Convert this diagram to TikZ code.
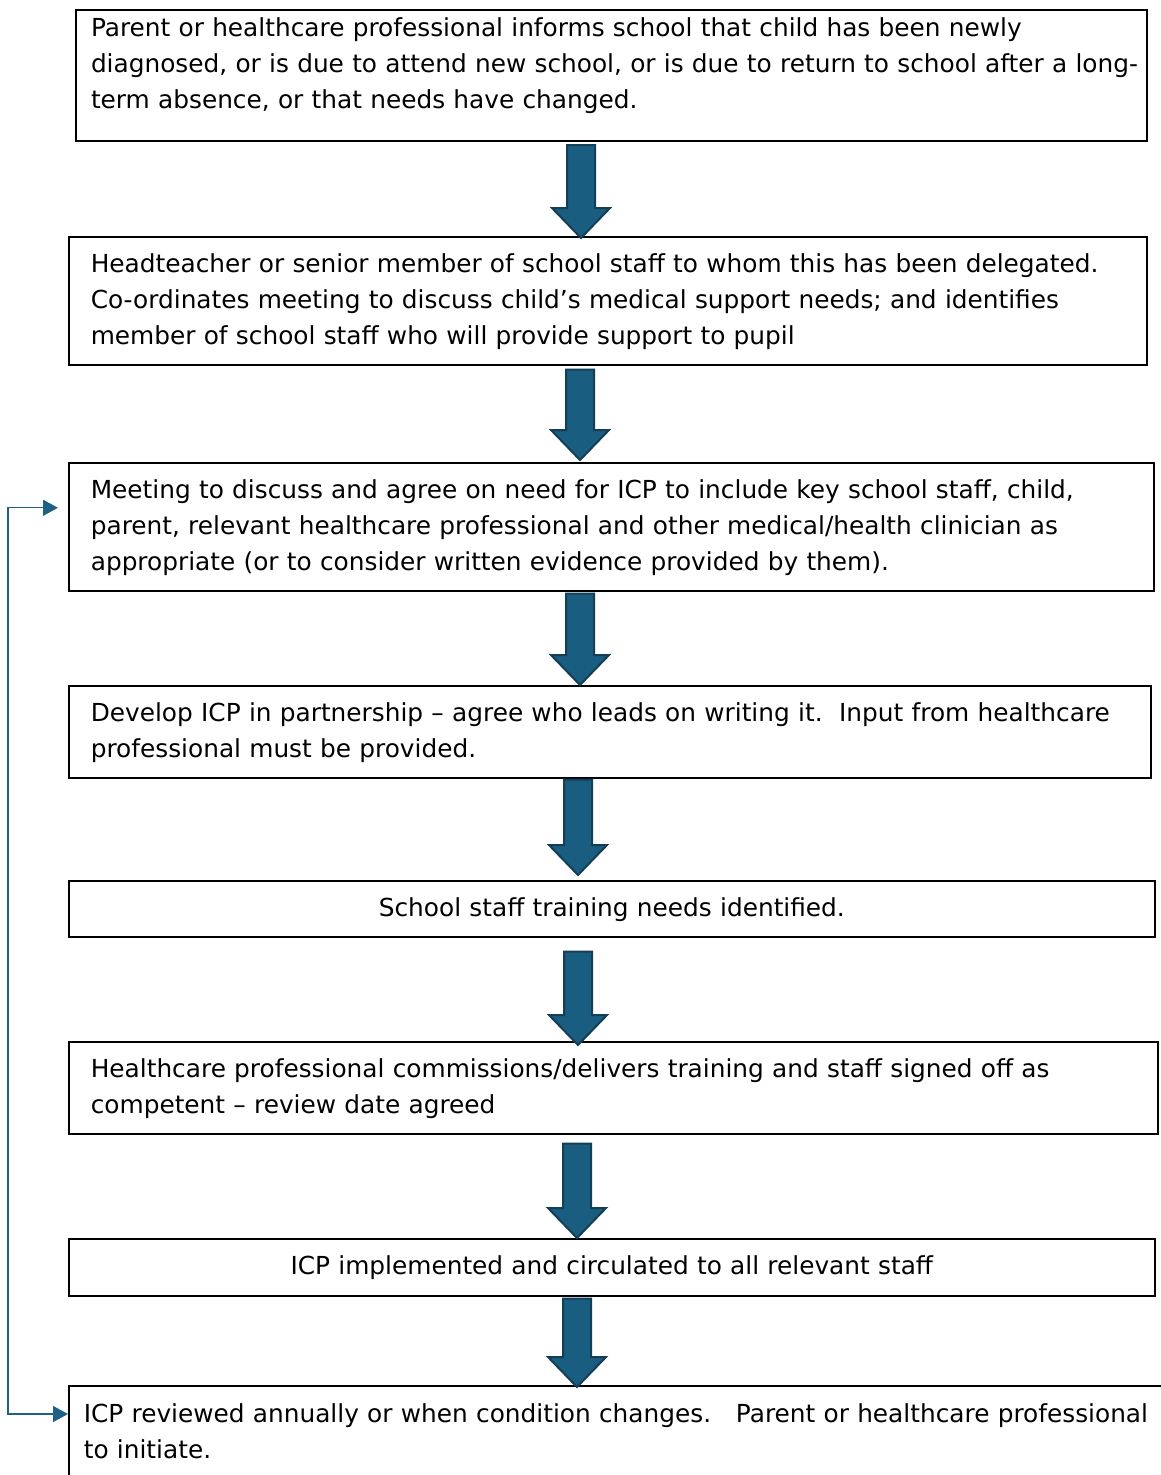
\documentclass[tikz,border=0pt]{standalone}
\usepackage{fontspec}
\setmainfont{DejaVu Sans}
\usetikzlibrary{calc,arrows.meta}
\definecolor{arrowfill}{RGB}{25,94,129}
\definecolor{arrowdraw}{RGB}{19,62,86}
\definecolor{fbcol}{RGB}{31,97,132}
\tikzset{
  box/.style={draw=black, line width=1.6pt, rectangle, inner ysep=0pt, align=left,
    font=\fontsize{24.8}{36}\selectfont},
  cbox/.style={draw=black, line width=1.6pt, rectangle, inner ysep=0pt, align=center,
    font=\fontsize{24.8}{36}\selectfont},
  barrow/.style={fill=arrowfill, draw=arrowdraw, line width=2pt, line join=miter},
  fb/.style={draw=fbcol, line width=1.3pt,
    {Triangle[length=15pt,width=16pt]}-{Triangle[length=15pt,width=16pt]}}
}
% x centre, from node, to node, gap below upper box, overshoot of tip into lower box
\newcommand\barrow[5]{%
  \draw[barrow] let \p1=(#2.south), \p2=(#3.north) in
    ({#1-14},{\y1-#4pt}) -- ({#1+14},{\y1-#4pt}) -- ({#1+14},{\y2-(#5pt)+30pt})
    -- ({#1+29},{\y2-(#5pt)+30pt}) -- ({#1},{\y2-(#5pt)}) -- ({#1-29},{\y2-(#5pt)+30pt})
    -- ({#1-14},{\y2-(#5pt)+30pt}) -- cycle;}
\newcommand\oneline[1]{\mbox{#1}}
\begin{document}
\begin{tikzpicture}[x=1pt,y=-1pt]
\useasboundingbox[fill=white] (0,0) rectangle (1161,1475);
\clip (0,0) rectangle (1161,1475);

\node[box, line width=2pt, anchor=north west, minimum width=1071, minimum height=131, inner xsep=15, text width=1041]
  (b1) at (75,9) {\strut\oneline{Parent or healthcare professional informs school that child has been newly}\\
  \oneline{diagnosed, or is due to attend new school, or is due to return to school after a long-}\\
  term absence, or that needs have changed.\strut\rule[-31.8pt]{0pt}{31.8pt}};

\node[box, anchor=north west, minimum width=1078, minimum height=128, inner xsep=22, text width=1034]
  (b2) at (68,236) {\strut\oneline{Headteacher or senior member of school staff to whom this has been delegated.}\\
  Co-ordinates meeting to discuss child’s medical support needs; and identifies\\
  member of school staff who will provide support to pupil\strut};

\node[box, anchor=north west, minimum width=1085, minimum height=128, inner xsep=22, text width=1041]
  (b3) at (68,462) {\strut Meeting to discuss and agree on need for ICP to include key school staff, child,\\
  parent, relevant healthcare professional and other medical/health clinician as\\
  appropriate (or to consider written evidence provided by them).\strut};

\node[box, anchor=north west, minimum width=1082, minimum height=92, inner xsep=22, text width=1038]
  (b4) at (68,685) {\strut\oneline{Develop ICP in partnership – agree who leads on writing it.\ \ Input from healthcare}\\
  professional must be provided.\strut};

\node[cbox, anchor=north west, minimum width=1086, minimum height=56, inner xsep=22, text width=1042]
  (b5) at (68,880) {\strut School staff training needs identified.\strut};

\node[box, anchor=north west, minimum width=1089, minimum height=92, inner xsep=22, text width=1045]
  (b6) at (68,1041) {\strut Healthcare professional commissions/delivers training and staff signed off as\\
  competent – review date agreed\strut};

\node[cbox, anchor=north west, minimum width=1086, minimum height=57, inner xsep=22, text width=1042]
  (b7) at (68,1238) {\strut ICP implemented and circulated to all relevant staff\strut};

\node[box, anchor=north west, minimum width=1200, minimum height=94, inner xsep=15, text width=1170]
  (b8) at (68,1385) {\strut ICP reviewed annually or when condition changes.\ \ \ Parent or healthcare professional\\
  to initiate.\strut};

\barrow{581}{b1}{b2}{3}{2}
\barrow{580}{b2}{b3}{4}{-2}
\barrow{580}{b3}{b4}{2}{0}
\barrow{578}{b4}{b5}{1}{-5}
\barrow{578}{b5}{b6}{14}{4}
\barrow{577}{b6}{b7}{9}{0}
\barrow{577}{b7}{b8}{2}{2}

\draw[fb] ([shift={(-10pt,19pt)}]b3.west) -- ++(-50pt,0) |- ([yshift=-29pt]b8.north west);
\end{tikzpicture}
\end{document}
